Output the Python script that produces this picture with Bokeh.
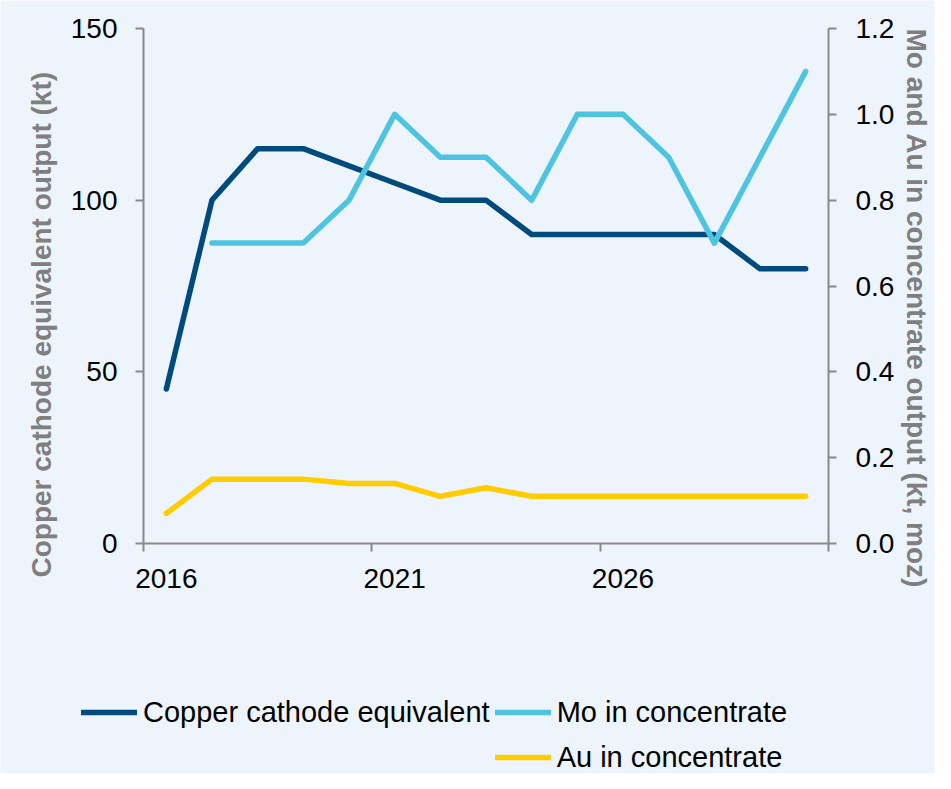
import math
from bokeh.plotting import figure
from bokeh.models import (Range1d, LinearAxis, FixedTicker, Legend, LegendItem,
                          Label, PrintfTickFormatter)
from bokeh.embed import file_html
from bokeh.resources import INLINE

# ---- data ----
years = [2016, 2017, 2018, 2019, 2020, 2021, 2022, 2023, 2024, 2025, 2026, 2027, 2028, 2029, 2030]
copper = [45, 100, 115, 115, 110, 105, 100, 100, 90, 90, 90, 90, 90, 80, 80]
mo_years = [2017, 2018, 2019, 2020, 2021, 2022, 2023, 2024, 2025, 2026, 2027, 2028, 2029, 2030]
mo = [0.70, 0.70, 0.70, 0.80, 1.00, 0.90, 0.90, 0.80, 1.00, 1.00, 0.90, 0.70, 0.90, 1.10]
au = [0.07, 0.15, 0.15, 0.15, 0.14, 0.14, 0.11, 0.13, 0.11, 0.11, 0.11, 0.11, 0.11, 0.11, 0.11]

left_ticks = [0, 50, 100, 150]
right_ticks = [0.0, 0.2, 0.4, 0.6, 0.8, 1.0, 1.2]
year_label_ticks = [2016, 2021, 2026]
year_boundary_ticks = [2015.5, 2020.5, 2025.5, 2030.5]
left_max, right_max = 150, 1.2

left_title = "Copper cathode equivalent output (kt)"
right_title = "Mo and Au in concentrate output (kt, moz)"
series_names = ["Copper cathode equivalent", "Mo in concentrate", "Au in concentrate"]

# ---- style / layout ----
BG = "#EDF4FC"
GRAY = "#898989"
TITLE_GRAY = "#7F7F7F"
C_CU = "#004B7C"
C_MO = "#4FC4E0"
C_AU = "#FFCC00"
FONT = "Liberation Sans"
LW = 5.5

W, H = 935, 773
PL, PR, PT, PB = 143, 828, 28, 543          # plot-area edges in pixels
x0, x1 = year_boundary_ticks[0], year_boundary_ticks[-1]
ppx = (PR - PL) / (x1 - x0)
ppy_l = (PB - PT) / left_max
ppy_r = (PB - PT) / right_max

p = figure(width=W, height=H, output_backend="svg", toolbar_location=None,
           x_range=Range1d(x0 - PL / ppx, x1 + (W - PR) / ppx),
           y_range=Range1d(-(H - PB) / ppy_l, left_max + PT / ppy_l),
           x_axis_location=None, y_axis_location=None, min_border=0,
           background_fill_color=BG, border_fill_color=BG, outline_line_color=None)
p.xgrid.grid_line_color = None
p.ygrid.grid_line_color = None
p.extra_y_ranges = {"r": Range1d(-(H - PB) / ppy_r, right_max + PT / ppy_r)}


def style_axis(ax):
    ax.axis_line_color = GRAY
    ax.axis_line_width = 2
    ax.major_tick_line_color = GRAY
    ax.major_tick_line_width = 2
    ax.major_tick_out = 8
    ax.major_tick_in = 0
    ax.minor_tick_line_color = None
    ax.major_label_text_font = FONT
    ax.major_label_text_font_size = "28px"
    ax.major_label_text_color = "black"


yl = LinearAxis(ticker=FixedTicker(ticks=left_ticks), fixed_location=x0, bounds=(0, left_max))
style_axis(yl)
yl.major_label_standoff = 18
p.add_layout(yl, "left")

yr = LinearAxis(y_range_name="r", ticker=FixedTicker(ticks=right_ticks),
                formatter=PrintfTickFormatter(format="%.1f"),
                fixed_location=x1, bounds=(0, right_max))
style_axis(yr)
yr.major_label_standoff = 19
p.add_layout(yr, "right")

# x axis: labels at category centres, tick marks at category boundaries (minor ticks)
xa = LinearAxis(ticker=FixedTicker(ticks=year_label_ticks, minor_ticks=year_boundary_ticks),
                formatter=PrintfTickFormatter(format="%d"), fixed_location=0, bounds=(x0, x1))
style_axis(xa)
xa.major_tick_line_color = None
xa.major_tick_out = 0
xa.minor_tick_line_color = GRAY
xa.minor_tick_line_width = 2
xa.minor_tick_out = 8
xa.minor_tick_in = 0
xa.major_label_standoff = 17
p.add_layout(xa, "below")

r_cu = p.line(years, copper, line_color=C_CU, line_width=LW, line_join="round", line_cap="round")
r_mo = p.line(mo_years, mo, y_range_name="r", line_color=C_MO, line_width=LW,
              line_join="round", line_cap="round")
r_au = p.line(years, au, y_range_name="r", line_color=C_AU, line_width=LW,
              line_join="round", line_cap="round")
r_blank = p.line([], [], line_alpha=0)

legend = Legend(items=[LegendItem(label=series_names[0], renderers=[r_cu]),
                       LegendItem(label=series_names[1], renderers=[r_mo]),
                       LegendItem(label=" ", renderers=[r_blank]),
                       LegendItem(label=series_names[2], renderers=[r_au])],
                location=(81, -4), orientation="horizontal", ncols=2,
                padding=0, margin=0, spacing=5,
                border_line_color=None, background_fill_alpha=0,
                label_text_font=FONT, label_text_font_size="29px",
                label_text_color="black",
                glyph_width=56, glyph_height=40, label_height=40, label_standoff=6)
p.add_layout(legend, "center")

p.add_layout(Label(x=41, y=H - 577, x_units="screen", y_units="screen", text=left_title,
                   angle=math.pi / 2, text_align="left", text_baseline="middle",
                   text_font=FONT, text_font_size="28px", text_font_style="bold",
                   text_color=TITLE_GRAY))
p.add_layout(Label(x=916, y=H - PT, x_units="screen", y_units="screen", text=right_title,
                   angle=-math.pi / 2, text_align="left", text_baseline="middle",
                   text_font=FONT, text_font_size="28px", text_font_style="bold",
                   text_color=TITLE_GRAY))

open("out.html", "w").write(file_html(p, INLINE))
